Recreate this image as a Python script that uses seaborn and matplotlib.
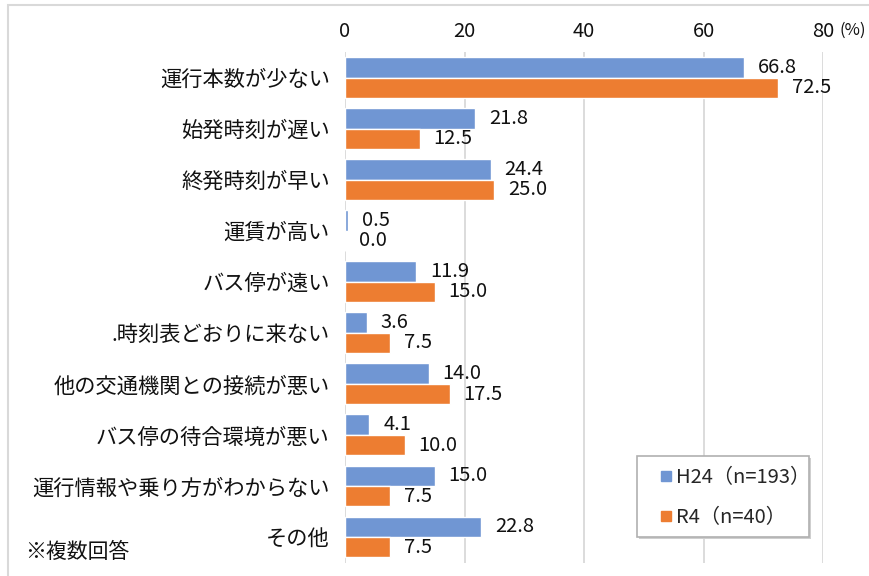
import matplotlib
matplotlib.use("Agg")
import matplotlib.pyplot as plt
from matplotlib.patches import Rectangle
from matplotlib.lines import Line2D
import seaborn as sns
import pandas as pd

categories = [
    "運行本数が少ない",
    "始発時刻が遅い",
    "終発時刻が早い",
    "運賃が高い",
    "バス停が遠い",
    ".時刻表どおりに来ない",
    "他の交通機関との接続が悪い",
    "バス停の待合環境が悪い",
    "運行情報や乗り方がわからない",
    "その他",
]
series_names = ["H24（n=193）", "R4（n=40）"]
h24_values = [66.8, 21.8, 24.4, 0.5, 11.9, 3.6, 14.0, 4.1, 15.0, 22.8]
r4_values = [72.5, 12.5, 25.0, 0.0, 15.0, 7.5, 17.5, 10.0, 7.5, 7.5]
x_ticks = [0, 20, 40, 60, 80]
colors = ["#7096D3", "#ED7D31"]

df = pd.DataFrame({
    "category": categories * 2,
    "value": h24_values + r4_values,
    "series": [series_names[0]] * len(categories) + [series_names[1]] * len(categories),
})

sns.set_theme(style="white")
plt.rcParams["font.family"] = ["Noto Sans CJK JP", "DejaVu Sans"]

W, H = 869, 576
fig = plt.figure(figsize=(W / 100, H / 100), dpi=100)
ax = fig.add_axes([345 / W, 1 - 562.5 / H, 478 / W, 510.5 / H])

sns.barplot(
    data=df, x="value", y="category", hue="series", orient="h",
    palette=colors, width=0.8, gap=0, ax=ax, legend=False,
    order=categories, hue_order=series_names, saturation=1,
)

for cont in ax.containers:
    ax.bar_label(cont, fmt="%.1f", padding=10, fontsize=14.5, color="#111111")

ax.set_xlim(0, 80)
ax.set_xticks(x_ticks)
ax.xaxis.tick_top()
ax.tick_params(axis="x", length=0, pad=7, labelsize=14.5, colors="#111111")
ax.tick_params(axis="y", length=0, pad=11, labelsize=15.3, colors="#111111")
ax.set_xlabel("")
ax.set_ylabel("")
for s in ax.spines.values():
    s.set_visible(False)
ax.grid(axis="x", color="#d9d9d9", linewidth=1.3)
ax.set_axisbelow(True)
ax.set_ylim(len(categories) - 0.5, -0.5)

fig.text(853 / W, 1 - 30 / H, "(%)", ha="center", va="center", fontsize=12, color="#111111")
fig.text(25 / W, 1 - 552 / H, "※複数回答", ha="left", va="center", fontsize=15, color="#111111")

# legend: square swatches inside a plain box with a soft shadow
handles = [Line2D([], [], marker="s", linestyle="", markersize=6.5, color=c) for c in colors]
fig.patches.append(Rectangle((639 / W, 1 - 539 / H), 172 / W, 81 / H, transform=fig.transFigure,
                             facecolor="#cfcfcf", edgecolor="none", zorder=4))
fig.patches.append(Rectangle((637 / W, 1 - 537 / H), 172 / W, 81 / H, transform=fig.transFigure,
                             facecolor="white", edgecolor="#b0b0b0", linewidth=1.2, zorder=5))
leg = fig.legend(
    handles, series_names, loc="center left",
    bbox_to_anchor=(659 / W, 1 - 497.5 / H), bbox_transform=fig.transFigure,
    frameon=False, fontsize=14.5, handlelength=0.7, handletextpad=0.15,
    labelspacing=0.95, borderpad=0, borderaxespad=0,
)
leg.set_zorder(6)

# outer chart frame
fig.patches.append(Rectangle((8 / W, -0.05), 1.1, 1 - 5 / H + 0.05, transform=fig.transFigure,
                             fill=False, edgecolor="#d9d9d9", linewidth=1.5, zorder=0))

fig.savefig("out.png", dpi=100)
